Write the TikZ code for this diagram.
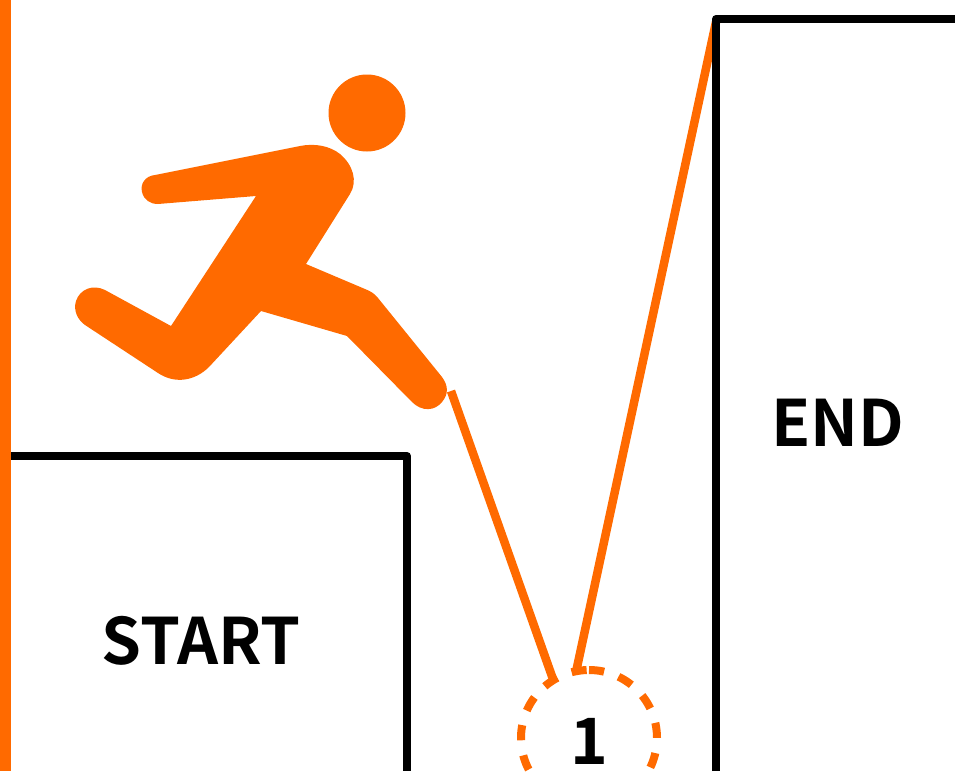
\documentclass[tikz,border=0pt]{standalone}
\usepackage{fontspec}
\newfontfamily\labelfont{Noto Sans CJK JP Bold}
\usetikzlibrary{positioning}
\definecolor{orangex}{HTML}{FF6A00}
\begin{document}
\begin{tikzpicture}[x=1pt,y=-1pt,
  wall/.style={draw=black, line width=8pt, line join=round},
  route/.style={draw=orangex, line width=8.5pt},
  ring/.style={draw=orangex, line width=8pt, dash pattern=on 15.2pt off 15.3pt},
  label/.style={font=\labelfont\fontsize{64}{64}\selectfont, text=black, inner sep=0pt}]
  \useasboundingbox (0,0) rectangle (955,771);
  % target circle
  \node[circle, minimum size=136pt, inner sep=0pt, outer sep=0pt] (hold) at (589,738) {};
  \draw[ring] ([shift={(-90:68)}]hold.center) arc (-90:90:68);
  \draw[ring] ([shift={(-92:68)}]hold.center) arc (-92:-270:68);
  \node[label] (num) at (589,741) {1};
  % route
  \coordinate (foot) at (451,391);
  \coordinate (top) at (716,22);
  \coordinate (holdl) at (554,682);
  \coordinate (holdr) at (576,672);
  \draw[route] (foot) -- (holdl);
  \draw[route] (holdr) -- (top);
  % walls
  \fill[orangex] (0,0) rectangle (11,771);
  \draw[wall] (11,456) -- (407,456) -- (407,771);
  \draw[wall] (716,771) -- (716,19) -- (955,19);
  \node[label] (start) at (201,641) {START};
  \node[label] (end) at (838,423) {END};
  % runner
  \fill[orangex] (367,113) circle (38.5);
  \fill[orangex] (155,175) .. controls (145,176) and (140,184) .. (142,192) .. controls (144,200) and (150,204) .. (158,204)
    -- (256,196) -- (171,326) -- (105,290) .. controls (93,284) and (80,289) .. (76,301) .. controls (73,311) and (78,320) .. (85,325)
    -- (158,373) .. controls (176,385) and (196,380) .. (209,367) -- (261,311) -- (347,336) -- (412,402)
    .. controls (422,412) and (435,411) .. (442,402) .. controls (449,394) and (448,385) .. (442,377)
    -- (378,298) .. controls (374,293) and (370,291) .. (365,289) -- (306,264) -- (350,194)
    .. controls (358,181) and (353,165) .. (340,154) .. controls (330,146) and (315,143) .. (300,146) -- cycle;
\end{tikzpicture}
\end{document}
